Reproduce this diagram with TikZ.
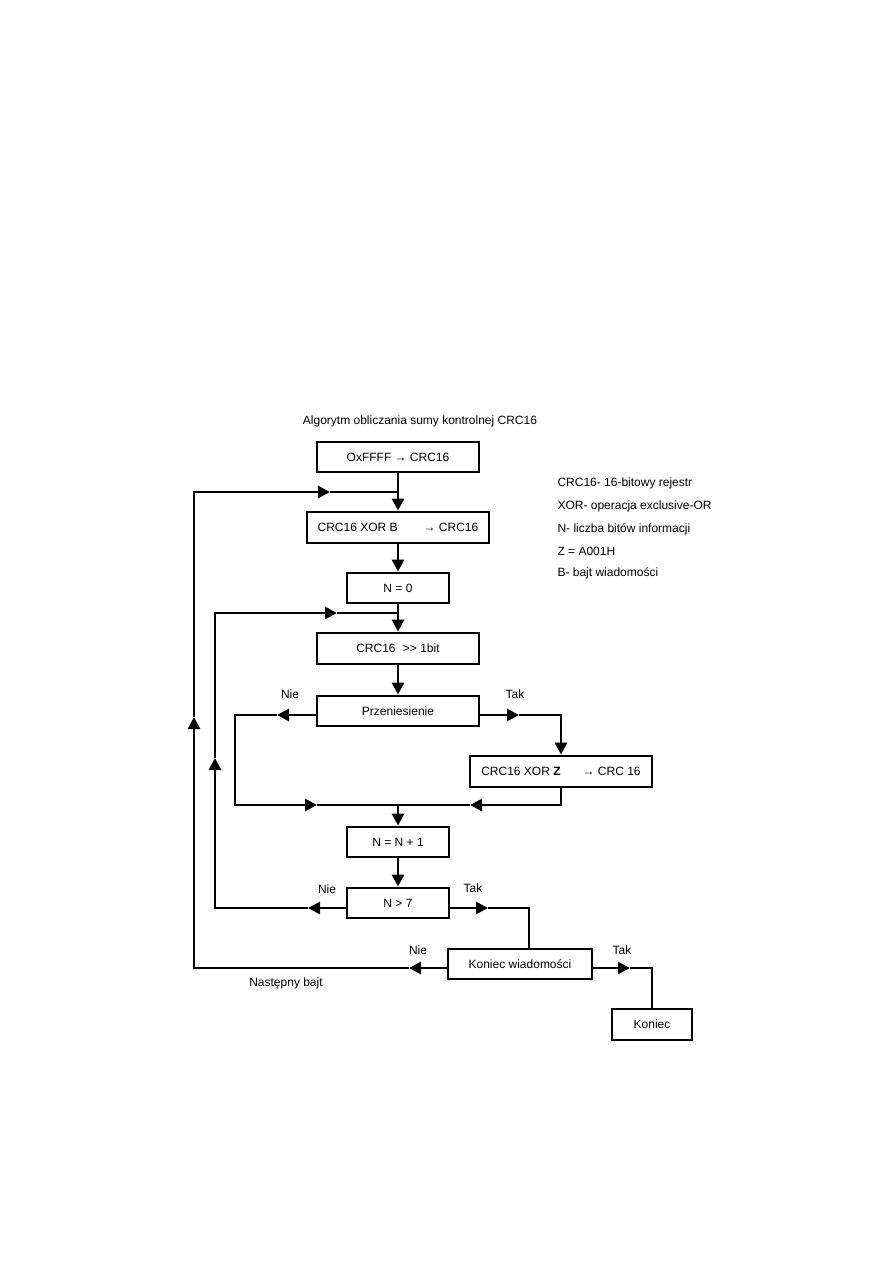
\documentclass[tikz,border=0pt]{standalone}
\usepackage{fontspec}
\setmainfont{Liberation Sans}
\usetikzlibrary{arrows.meta, positioning, calc}

\begin{document}
\begin{tikzpicture}[x=1pt, y=-1pt,
    every node/.style={font=\fontsize{12}{14}\selectfont},
    block/.style={draw, line width=2.8pt, minimum height=30pt, inner sep=0pt},
    wire/.style={line width=2.8pt},
    tip/.style={wire, -{Triangle[length=12pt,width=12pt]}}]
  \useasboundingbox (0,0) rectangle (893,1263);

  \node (title) at (420,421) {Algorytm obliczania sumy kontrolnej CRC16};

  \node[block, minimum width=162pt] (init) at (398,457) {OxFFFF → CRC16};
  \node[block, minimum width=182pt, minimum height=31pt] (xorb) at (398,527.5) {CRC16 XOR B\hspace{26pt}→ CRC16};
  \node[block, minimum width=102pt] (nzero) at (398,588) {N = 0};
  \node[block, minimum width=162pt, minimum height=31pt] (shift) at (398,648.5) {CRC16\hspace{4pt} >\kern0pt> 1bit};
  \node[block, minimum width=162pt] (carry) at (398,711) {Przeniesienie};
  \node[block, minimum width=182pt, minimum height=31pt] (xorz) at (561,771.5) {CRC16 XOR \textbf{Z}\hspace{22pt}→ CRC 16};
  \node[block, minimum width=102pt] (ninc) at (398,842) {N = N + 1};
  \node[block, minimum width=102pt] (ntest) at (398,903) {N > 7};
  \node[block, minimum width=144pt] (msgend) at (520,964) {Koniec wiadomości};
  \node[block, minimum width=80pt, minimum height=31pt] (fin) at (652,1024.5) {Koniec};

  \node[anchor=west] (leg1) at (554,483) {CRC16- 16-bitowy rejestr};
  \node[anchor=west] (leg2) at (554,506) {XOR- operacja exclusive-OR};
  \node[anchor=west] (leg3) at (554,529) {N- liczba bitów informacji};
  \node[anchor=west] (leg4) at (554,551) {Z = A001H};
  \node[anchor=west] (leg5) at (554,573) {B- bajt wiadomości};

  \coordinate (outer) at (398,492);
  \coordinate (inner) at (398,613);
  \coordinate (merge) at (398,805);

  \draw[wire] (init.south) -- (outer);
  \draw[tip] (outer) -- (xorb.north);
  \draw[tip] (xorb.south) -- (nzero.north);
  \draw[wire] (nzero.south) -- (inner);
  \draw[tip] (inner) -- (shift.north);
  \draw[tip] (shift.south) -- (carry.north);

  \coordinate (noA) at (277,715);
  \coordinate (noAcorner) at (235,805);
  \coordinate (noAin) at (317,805);
  \draw[tip] ([yshift=-4pt]carry.west) -- (noA);
  \draw[tip] (noA) -| (noAcorner) -- (noAin);
  \draw[wire] (noAin) -- (merge);

  \coordinate (yesA) at (519,715);
  \coordinate (yesAin) at (470,805);
  \draw[tip] ([yshift=-4pt]carry.east) -- (yesA);
  \draw[tip] (yesA) -| (xorz.north);
  \draw[tip] (xorz.south) |- (yesAin);
  \draw[wire] (yesAin) -- (merge);

  \draw[tip] (merge) -- (ninc.north);
  \draw[tip] (ninc.south) -- (ntest.north);

  \coordinate (noB) at (308,908);
  \coordinate (noBup) at (215,758);
  \coordinate (noBin) at (337,613);
  \draw[tip] ([yshift=-5pt]ntest.west) -- (noB);
  \draw[tip] (noB) -| (noBup);
  \draw[tip] (noBup) |- (noBin);
  \draw[wire] (noBin) -- (inner);

  \coordinate (yesB) at (488,908);
  \coordinate (yesBdrop) at (529,949);
  \draw[tip] ([yshift=-5pt]ntest.east) -- (yesB);
  \draw[wire] (yesB) -| (yesBdrop);

  \coordinate (noC) at (409,968);
  \coordinate (noCup) at (194,717);
  \coordinate (noCin) at (330,492);
  \draw[tip] ([yshift=-4pt]msgend.west) -- (noC);
  \draw[tip] (noC) -| (noCup);
  \draw[tip] (noCup) |- (noCin);
  \draw[wire] (noCin) -- (outer);

  \coordinate (yesC) at (630,968);
  \draw[tip] ([yshift=-4pt]msgend.east) -- (yesC);
  \draw[wire] (yesC) -| (fin.north);

  \node (nieA) at (290,694) {Nie};
  \node (takA) at (515,694) {Tak};
  \node (nieB) at (327,889) {Nie};
  \node (takB) at (473,888) {Tak};
  \node (nieC) at (418,950) {Nie};
  \node (takC) at (622,950) {Tak};
  \node (nextbyte) at (286,983) {Następny bajt};
\end{tikzpicture}
\end{document}
